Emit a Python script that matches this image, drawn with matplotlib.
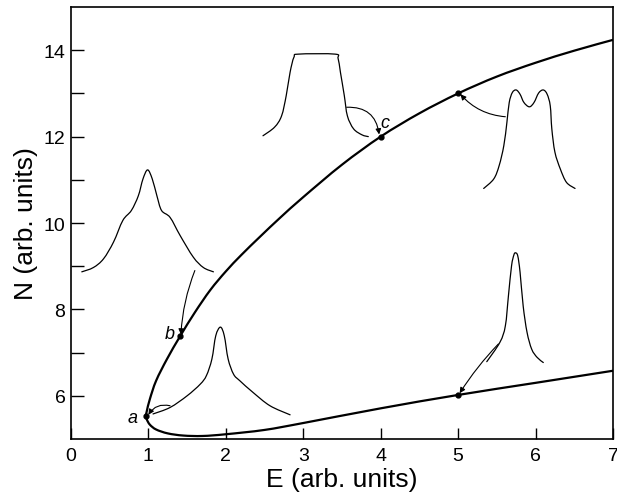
import matplotlib
matplotlib.use('Agg')
import matplotlib.pyplot as plt
from matplotlib.ticker import MultipleLocator, FixedLocator
from matplotlib.path import Path
from matplotlib.patches import PathPatch

plt.rcParams['font.family'] = ['Liberation Sans', 'DejaVu Sans']

# Main bistability curve (lower branch from E=7 back to turning point, then upper branch)
curve_E = [7.0, 6.0, 5.0, 4.0, 3.0, 2.5, 2.0, 1.7, 1.45, 1.25, 1.1, 1.02, 0.98, 0.97,
           0.98, 1.02, 1.1, 1.24, 1.41, 1.6, 1.8, 2.0, 2.2, 2.44, 2.7, 3.0, 3.5, 4.0,
           4.5, 5.0, 5.5, 6.0, 6.5, 7.0]
curve_N = [6.58, 6.30, 6.02, 5.71, 5.37, 5.21, 5.11, 5.07, 5.08, 5.13, 5.22, 5.33, 5.45, 5.54,
           5.65, 5.93, 6.35, 6.85, 7.38, 7.93, 8.45, 8.88, 9.26, 9.68, 10.12, 10.60, 11.35, 12.0,
           12.54, 13.0, 13.39, 13.71, 13.99, 14.24]

# Marked states
pts_E = [0.97, 1.41, 4.0, 5.0, 5.0]
pts_N = [5.54, 7.38, 12.0, 13.0, 6.02]
lab_text = ['a', 'b', 'c']
lab_E = [0.80, 1.28, 4.06]
lab_N = [5.50, 7.45, 12.33]

# Inset pulse profiles (drawn in data coordinates)
insetA_E = [0.14, 0.29, 0.42, 0.55, 0.67, 0.78, 0.87, 0.93, 0.99, 1.05, 1.11, 1.17, 1.28, 1.41, 1.58, 1.71, 1.84]
insetA_N = [8.87, 8.97, 9.17, 9.56, 10.06, 10.29, 10.63, 11.02, 11.23, 11.02, 10.63, 10.29, 10.13, 9.71, 9.21, 8.97, 8.87]

insetB_E = [1.06, 1.28, 1.50, 1.67, 1.75, 1.82, 1.87, 1.93, 1.98, 2.03, 2.10, 2.18, 2.35, 2.57, 2.83]
insetB_N = [5.58, 5.73, 6.00, 6.27, 6.47, 6.85, 7.39, 7.59, 7.39, 6.85, 6.50, 6.35, 6.08, 5.77, 5.56]

insetC_E = [2.48, 2.63, 2.72, 2.78, 2.83, 2.88, 2.94, 3.41, 3.45, 3.48, 3.53, 3.57, 3.65, 3.76, 3.84]
insetC_N = [12.02, 12.22, 12.48, 12.95, 13.49, 13.84, 13.91, 13.91, 13.81, 13.49, 12.95, 12.48, 12.18, 12.04, 12.0]

insetD_E = [5.33, 5.46, 5.53, 5.59, 5.63, 5.66, 5.70, 5.75, 5.80, 5.85, 5.92, 5.98, 6.04, 6.10, 6.15,
            6.19, 6.21, 6.25, 6.32, 6.40, 6.51]
insetD_N = [10.80, 11.02, 11.33, 11.79, 12.33, 12.79, 13.02, 13.08, 12.98, 12.79, 12.69, 12.79, 13.01,
            13.08, 12.98, 12.71, 12.18, 11.64, 11.25, 10.94, 10.80]

insetE_E = [5.37, 5.54, 5.61, 5.65, 5.69, 5.72, 5.74, 5.77, 5.80, 5.84, 5.89, 5.95, 6.02, 6.10]
insetE_N = [6.79, 7.24, 7.62, 8.32, 9.01, 9.26, 9.31, 9.24, 8.86, 8.08, 7.47, 7.08, 6.89, 6.77]

# Arrows: (start E, start N, end E, end N, curvature)
arrows = [
    (1.60, 8.90, 1.42, 7.42, 0.08),
    (1.28, 5.77, 1.00, 5.56, 0.35),
    (3.56, 12.68, 3.98, 12.05, -0.45),
    (5.61, 12.46, 5.03, 12.98, -0.2),
    (5.52, 7.20, 5.02, 6.06, 0.05),
]


def smooth_line(ax, xs, ys, lw, tension=6.0):
    """Draw a curve through the read points using cubic Bezier segments."""
    n = len(xs)
    verts = [(xs[0], ys[0])]
    codes = [Path.MOVETO]
    for i in range(n - 1):
        p0 = (xs[max(i - 1, 0)], ys[max(i - 1, 0)])
        p1 = (xs[i], ys[i])
        p2 = (xs[i + 1], ys[i + 1])
        p3 = (xs[min(i + 2, n - 1)], ys[min(i + 2, n - 1)])
        c1 = (p1[0] + (p2[0] - p0[0]) / tension, p1[1] + (p2[1] - p0[1]) / tension)
        c2 = (p2[0] - (p3[0] - p1[0]) / tension, p2[1] - (p3[1] - p1[1]) / tension)
        verts += [c1, c2, p2]
        codes += [Path.CURVE4] * 3
    ax.add_patch(PathPatch(Path(verts, codes), fill=False, edgecolor='black',
                           lw=lw, joinstyle='round', capstyle='round'))


fig = plt.figure(figsize=(6.17, 5.02), dpi=100)
ax = fig.add_axes([0.115, 0.1235, 0.8785, 0.8605])

smooth_line(ax, curve_E, curve_N, 1.6)
ax.plot(pts_E, pts_N, 'o', color='black', ms=3.5)
for t, x, y in zip(lab_text, lab_E, lab_N):
    ax.text(x, y, t, fontsize=13, style='italic', ha='center', va='center')

for xs, ys in [(insetA_E, insetA_N), (insetB_E, insetB_N), (insetC_E, insetC_N),
               (insetD_E, insetD_N), (insetE_E, insetE_N)]:
    smooth_line(ax, xs, ys, 0.9)

for x0, y0, x1, y1, rad in arrows:
    ax.annotate('', xy=(x1, y1), xytext=(x0, y0),
                arrowprops=dict(arrowstyle='-|>', color='black', lw=0.8,
                                mutation_scale=8, shrinkA=0, shrinkB=0,
                                connectionstyle=f'arc3,rad={rad}'))

ax.set_xlim(0, 7)
ax.set_ylim(5, 15)
ax.xaxis.set_major_locator(MultipleLocator(1))
ax.yaxis.set_major_locator(FixedLocator([6, 8, 10, 12, 14]))
ax.yaxis.set_minor_locator(FixedLocator([7, 9, 11, 13]))
ax.tick_params(axis='both', which='both', direction='in', labelsize=14, width=1.0)
ax.tick_params(axis='x', which='major', length=8, pad=6)
ax.tick_params(axis='y', which='major', length=9, pad=4)
ax.tick_params(axis='y', which='minor', length=9)
for s in ax.spines.values():
    s.set_linewidth(1.2)

ax.set_xlabel('E (arb. units)', fontsize=19, labelpad=2)
ax.set_ylabel('N (arb. units)', fontsize=19, labelpad=4)

fig.savefig('out.png', dpi=100)
